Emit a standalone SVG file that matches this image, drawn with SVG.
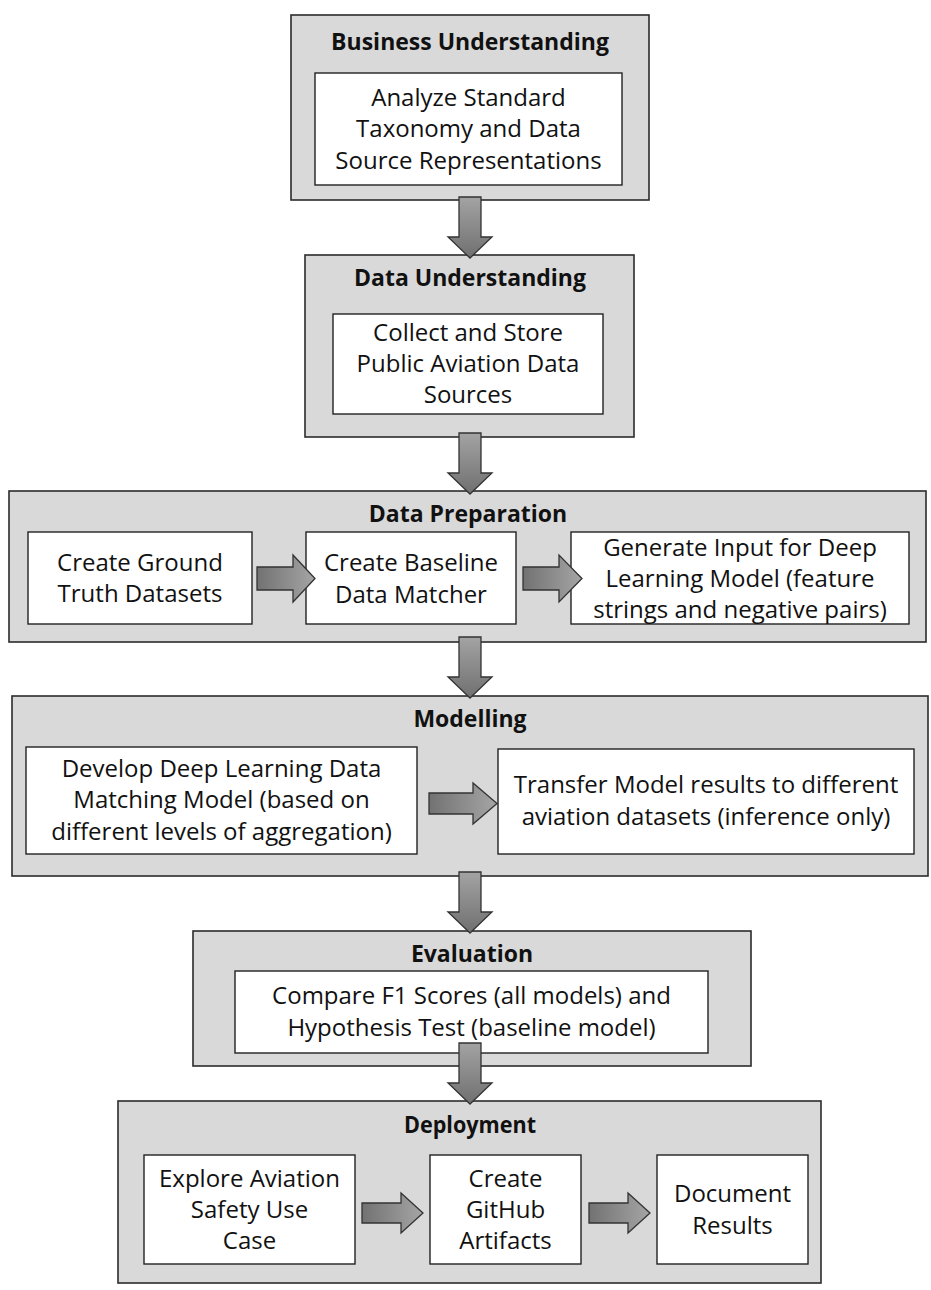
<svg xmlns="http://www.w3.org/2000/svg" width="931" height="1290" viewBox="0 0 931 1290">
<style>
.outer{fill:#d9d9d9;stroke:#2b2b2b;stroke-width:1.6}
.inner{fill:#ffffff;stroke:#222222;stroke-width:1.4}
.h{font-family:"Open Sans","Liberation Sans",sans-serif;font-weight:bold;font-size:23px;fill:#111;text-anchor:middle}
.t{font-family:"Open Sans","Liberation Sans",sans-serif;font-size:24px;fill:#111;text-anchor:middle}
.av{fill:url(#gv);stroke:#333;stroke-width:1.3}
.ah{fill:url(#gh);stroke:#333;stroke-width:1.3}
</style>
<defs>
<linearGradient id="gv" x1="0" y1="0" x2="0" y2="1">
<stop offset="0" stop-color="#a3a3a3"/><stop offset="1" stop-color="#707070"/>
</linearGradient>
<linearGradient id="gh" x1="0" y1="0" x2="1" y2="0">
<stop offset="0" stop-color="#727272"/><stop offset="1" stop-color="#a5a5a5"/>
</linearGradient>
</defs>
<rect width="931" height="1290" fill="#ffffff"/>

<g id="business-understanding">
<rect class="outer" x="291" y="15" width="358" height="185"/>
<text class="h" x="470" y="50">Business Understanding</text>
<rect class="inner" x="315" y="73" width="307" height="112"/>
<text class="t" x="468.5" y="106">Analyze Standard</text>
<text class="t" x="468.5" y="137">Taxonomy and Data</text>
<text class="t" x="468.5" y="169">Source Representations</text>
</g>

<g id="data-understanding">
<rect class="outer" x="305" y="255" width="329" height="182"/>
<text class="h" x="470" y="286">Data Understanding</text>
<rect class="inner" x="333" y="314" width="270" height="100"/>
<text class="t" x="468" y="341">Collect and Store</text>
<text class="t" x="468" y="372">Public Aviation Data</text>
<text class="t" x="468" y="403">Sources</text>
</g>

<g id="data-preparation">
<rect class="outer" x="9" y="491" width="917" height="151"/>
<text class="h" x="468" y="522">Data Preparation</text>
<g id="create-ground-truth">
<rect class="inner" x="28" y="532" width="224" height="92"/>
<text class="t" x="140" y="571">Create Ground</text>
<text class="t" x="140" y="602">Truth Datasets</text>
</g>
<g id="create-baseline">
<rect class="inner" x="306" y="532" width="210" height="92"/>
<text class="t" x="411" y="571">Create Baseline</text>
<text class="t" x="411" y="603">Data Matcher</text>
</g>
<g id="generate-input">
<rect class="inner" x="571" y="532" width="338" height="92"/>
<text class="t" x="740" y="556">Generate Input for Deep</text>
<text class="t" x="740" y="587">Learning Model (feature</text>
<text class="t" x="740" y="618">strings and negative pairs)</text>
</g>
</g>

<g id="modelling">
<rect class="outer" x="12" y="696" width="916" height="180"/>
<text class="h" x="470" y="727">Modelling</text>
<g id="develop-model">
<rect class="inner" x="26" y="747" width="391" height="107"/>
<text class="t" x="221.5" y="777">Develop Deep Learning Data</text>
<text class="t" x="221.5" y="808">Matching Model (based on</text>
<text class="t" x="221.5" y="840">different levels of aggregation)</text>
</g>
<g id="transfer-model">
<rect class="inner" x="498" y="749" width="416" height="105"/>
<text class="t" x="706" y="793">Transfer Model results to different</text>
<text class="t" x="706" y="825">aviation datasets (inference only)</text>
</g>
</g>

<g id="evaluation">
<rect class="outer" x="193" y="931" width="558" height="135"/>
<text class="h" x="472" y="962">Evaluation</text>
<rect class="inner" x="235" y="971" width="473" height="82"/>
<text class="t" x="471.5" y="1004">Compare F1 Scores (all models) and</text>
<text class="t" x="471.5" y="1036">Hypothesis Test (baseline model)</text>
</g>

<g id="deployment">
<rect class="outer" x="118" y="1101" width="703" height="182"/>
<text class="h" transform="translate(470,1133) scale(0.9,1)" style="font-size:24px">Deployment</text>
<g id="explore-use-case">
<rect class="inner" x="144" y="1155" width="211" height="109"/>
<text class="t" x="249.5" y="1187">Explore Aviation</text>
<text class="t" x="249.5" y="1218">Safety Use</text>
<text class="t" x="249.5" y="1249">Case</text>
</g>
<g id="create-github">
<rect class="inner" x="430" y="1155" width="151" height="109"/>
<text class="t" x="505.5" y="1187">Create</text>
<text class="t" x="505.5" y="1218">GitHub</text>
<text class="t" x="505.5" y="1249">Artifacts</text>
</g>
<g id="document-results">
<rect class="inner" x="657" y="1155" width="151" height="109"/>
<text class="t" x="732.5" y="1202">Document</text>
<text class="t" x="732.5" y="1234">Results</text>
</g>
</g>

<g id="connectors">
<path class="av" d="M459,197 H481 V237 H492 L470,258 L448,237 H459 Z"/>
<path class="av" d="M459,433 H481 V473 H492 L470,494 L448,473 H459 Z"/>
<path class="av" d="M459,637 H481 V677 H492 L470,698 L448,677 H459 Z"/>
<path class="av" d="M459,872 H481 V912 H492 L470,933 L448,912 H459 Z"/>
<path class="av" d="M459,1043 H481 V1083 H492 L470,1104 L448,1083 H459 Z"/>
<path class="ah" d="M257,567 H293 V555 L315,578.5 L293,602 V590 H257 Z"/>
<path class="ah" d="M523,567 H559 V555 L582,578.5 L559,602 V590 H523 Z"/>
<path class="ah" d="M429,793 H473 V783 L497,803.5 L473,824 V814 H429 Z"/>
<path class="ah" d="M362,1203 H401 V1193 L423,1213 L401,1233 V1223 H362 Z"/>
<path class="ah" d="M589,1203 H628 V1193 L650,1213 L628,1233 V1223 H589 Z"/>
</g>
</svg>
